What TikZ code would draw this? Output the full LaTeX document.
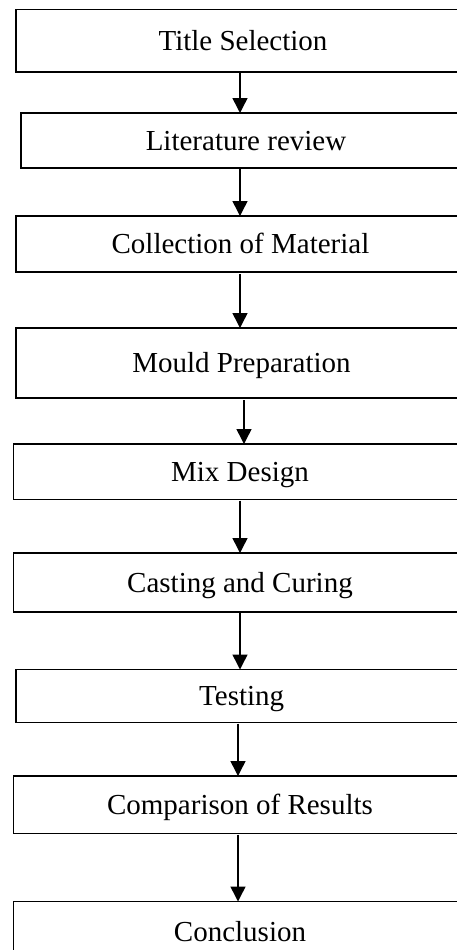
\documentclass[tikz,border=0pt]{standalone}
\usepackage{fontspec}
\setmainfont{Liberation Serif}
\usetikzlibrary{arrows.meta}
\begin{document}
\begin{tikzpicture}[x=1pt,y=-1pt,
  box/.style={draw,line width=1.8pt,inner sep=0pt,outer sep=0pt,
    text height=19pt,text depth=0pt,font=\fontsize{29}{34}\selectfont},
  flow/.style={line width=1.5pt,-{Triangle[width=15pt,length=15pt]}}]
\clip (0,0) rectangle (457,950);

\node[box,minimum width=454,minimum height=62.5] (title) at (243,40.75) {Title Selection};
\node[box,minimum width=450,minimum height=55] (lit) at (246,140.5) {Literature review};
\node[box,minimum width=449,minimum height=56] (coll) at (240.5,244) {Collection of Material};
\node[box,minimum width=451,minimum height=70] (mould) at (241.5,363) {Mould Preparation};
\node[box,minimum width=453,minimum height=55.5] (mix) at (240,471.75) {Mix Design};
\node[box,minimum width=453,minimum height=59] (cast) at (240,582.5) {Casting and Curing};
\node[box,minimum width=451,minimum height=53] (test) at (241.7,696) {Testing};
\node[box,minimum width=453,minimum height=57.5] (comp) at (240,804.75) {Comparison of Results};
\node[box,minimum width=453,minimum height=60] (concl) at (240,931.5) {Conclusion};

\coordinate (ax) at (240,0);
\coordinate (axr) at (244,0);
\coordinate (axl) at (238,0);

\draw[flow] ([yshift=-1pt]title.south -| ax) -- (lit.north -| ax);
\draw[flow] ([yshift=-1pt]lit.south -| ax) -- (coll.north -| ax);
\draw[flow] ([yshift=-2pt]coll.south -| ax) -- (mould.north -| ax);
\draw[flow] ([yshift=-2pt]mould.south -| axr) -- (mix.north -| axr);
\draw[flow] ([yshift=-1pt]mix.south -| ax) -- (cast.north -| ax);
\draw[flow] ([yshift=-1pt]cast.south -| ax) -- (test.north -| ax);
\draw[flow] ([yshift=-1pt]test.south -| axl) -- (comp.north -| axl);
\draw[flow] ([yshift=-1pt]comp.south -| axl) -- (concl.north -| axl);
\end{tikzpicture}
\end{document}
